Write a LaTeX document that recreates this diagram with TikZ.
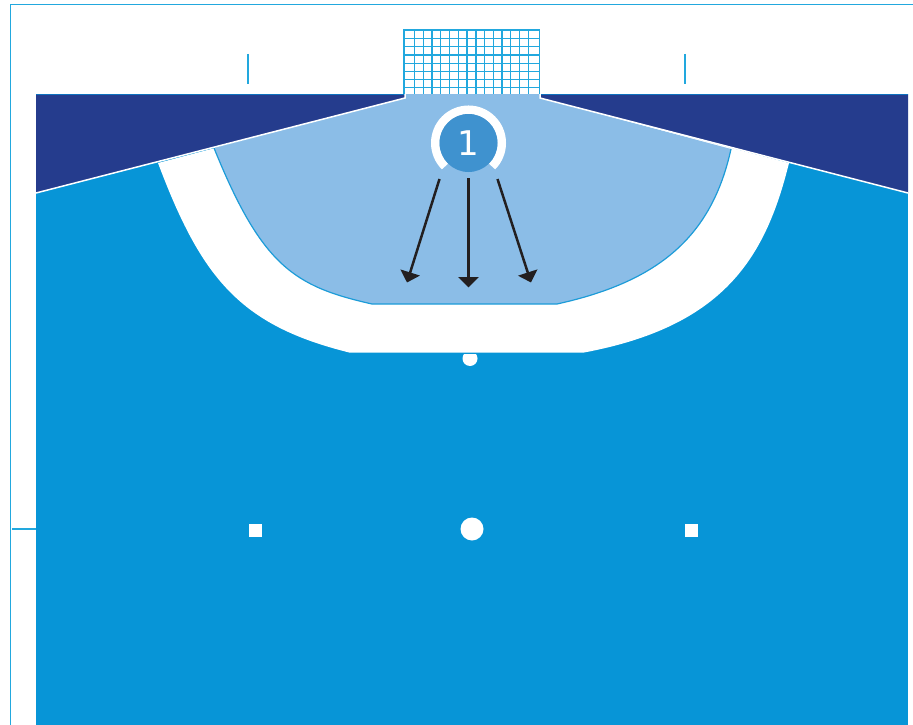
\documentclass[tikz,border=0pt]{standalone}
\usepackage{fontspec}
\setmainfont{DejaVu Sans}
\usetikzlibrary{arrows.meta}
\definecolor{field}{HTML}{0795D7}
\definecolor{navy}{HTML}{253C8D}
\definecolor{pale}{HTML}{8BBDE7}
\definecolor{badge}{HTML}{3F92CF}
\definecolor{rim}{HTML}{1D9CD8}
\definecolor{topline}{HTML}{0F72BE}
\definecolor{framec}{HTML}{22A8DE}
\definecolor{ink}{HTML}{231F20}
\tikzset{
  frameline/.style={draw=framec,line width=1.6pt},
  netline/.style={draw=framec,line width=1.4pt},
  arrowline/.style={draw=ink,line width=2.5pt,-{Triangle[length=10.5pt,width=20pt]}},
  mark spot/.style={fill=white,draw=none},
}
\begin{document}
\begin{tikzpicture}[x=1pt,y=-1pt]
\useasboundingbox (0,0) rectangle (913,725);
\fill[white] (0,0) rectangle (913,725);
% frame
\draw[frameline] (913,4.5) -- (10.5,4.5) -- (10.5,725);
\draw[frameline] (12,529) -- (36,529);
\draw[frameline] (248,54) -- (248,84);
\draw[frameline] (685,54) -- (685,84);
% field
\fill[field] (36,94) rectangle (908,725);
% navy wedges
\fill[navy] (36,94) -- (405,94) -- (405,98) -- (36,193) -- cycle;
\fill[navy] (908,94) -- (540,94) -- (540,98) -- (908,193) -- cycle;
\draw[draw=topline,line width=1pt] (36,94.3) -- (405,94.3);
\draw[draw=topline,line width=1pt] (540,94.3) -- (908,94.3);
% white zone
\fill[white] (158,163) .. controls (201.5,278.5) and (240,325.6) .. (350,352.7)
  -- (583,352.7) .. controls (723.6,326.7) and (765.4,258.3) .. (789,163)
  -- (540,98) -- (405,98) -- cycle;
% pale goal area
\fill[pale] (405,94) -- (405,98) -- (214,148)
  .. controls (262,266.5) and (294.5,286.5) .. (372,304)
  -- (557,304) .. controls (659,281.6) and (711.8,236.4) .. (731,149)
  -- (540,98) -- (540,94) -- cycle;
\draw[draw=rim,line width=1.2pt] (214,148)
  .. controls (262,266.5) and (294.5,286.5) .. (372,304)
  -- (557,304) .. controls (659,281.6) and (711.8,236.4) .. (731,149);
% white boundary lines
\draw[white,line width=1.5pt] (36,193) -- (405,98) -- (405,94);
\draw[white,line width=1.5pt] (908,193) -- (540,98) -- (540,94);
% goal net
\fill[white] (404,30) rectangle (539.5,94);
\foreach \gx in {414.3,423.3,432,440.7,449.7,458.3,467,476,484.7,493.3,502,510.7,519.3,528.3}
  \draw[netline] (\gx,30) -- (\gx,94);
\foreach \gy in {38.3,46.7,55,63.3,71.7,79.3,87.3}
  \draw[netline] (404,\gy) -- (539.5,\gy);
\draw[netline] (404,94) -- (404,30) -- (539.5,30) -- (539.5,94);
% spots
\begin{scope}
  \clip (455,354) rectangle (485,370);
  \fill[mark spot] (470,358.5) circle[radius=7.5];
\end{scope}
\fill[mark spot] (472,529) circle[radius=11.5];
\fill[mark spot] (249,523.5) rectangle (262,536.5);
\fill[mark spot] (684.5,523.5) rectangle (697.5,536.5);
% badge
\draw[white,line width=8.5pt] (445,166.5) arc[start angle=135,end angle=405,radius=33.25];
\node[circle,fill=badge,minimum size=58pt,inner sep=0pt,text=white,font=\fontsize{34}{34}\selectfont] (badge1) at (468.5,143) {1};
% arrows
\coordinate (la) at (439.5,179); \coordinate (lb) at (407,282.5);
\coordinate (ma) at (468.5,178); \coordinate (mb) at (468.5,287.5);
\coordinate (ra) at (497.5,179); \coordinate (rb) at (531,282.5);
\draw[arrowline] (la) -- (lb);
\draw[arrowline] (ma) -- (mb);
\draw[arrowline] (ra) -- (rb);
\end{tikzpicture}
\end{document}
